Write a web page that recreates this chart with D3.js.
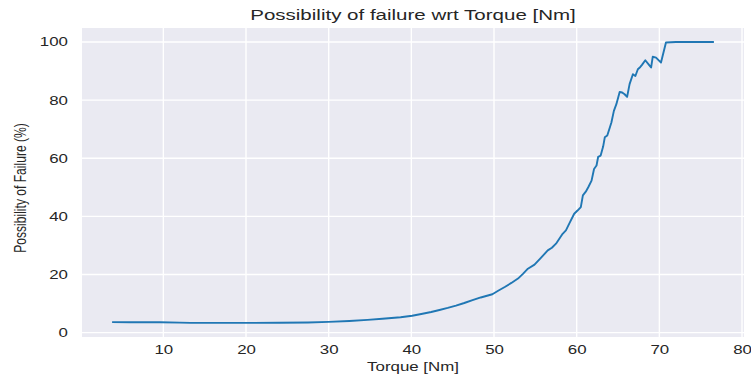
<!DOCTYPE html>
<html>
<head>
<meta charset="utf-8">
<script src="https://cdn.jsdelivr.net/npm/d3@7"></script>
<style>
  body { margin: 0; background: #fff; }
  text { font-family: "Liberation Sans", Arial, sans-serif; fill: #262626; }
</style>
</head>
<body>
<svg id="chart"></svg>
<script>
// torque values [Nm]
const torque = [3.8, 6, 9.6, 12, 13.3, 16, 20, 24, 27.5, 30, 32.5, 34.7, 36.5, 38.7, 40.1, 41.2, 42.4, 43.4,
  44.4, 45.4, 46.4, 47.4, 48.4, 49.8, 50.5, 51.3, 52.1, 52.9, 53.5, 54.1, 54.9, 55.7, 56.5, 57.0, 57.5, 58.3,
  58.7, 59.1, 59.7, 60.1, 60.5, 60.75, 61.1, 61.4, 61.8, 62.1, 62.4, 62.6, 62.9, 63.2, 63.4, 63.7, 64.0,
  64.2, 64.5, 64.8, 65.2, 65.5, 65.8, 66.1, 66.4, 66.8, 67.1, 67.4, 67.7, 67.9, 68.3, 68.7, 69.0, 69.2,
  69.6, 70.2, 70.8, 72, 74, 76.6];
// possibility of failure [%]
const failure = [3.6, 3.55, 3.55, 3.45, 3.35, 3.35, 3.35, 3.4, 3.5, 3.7, 4.0, 4.4, 4.8, 5.3, 5.8, 6.4, 7.1, 7.8,
  8.5, 9.3, 10.2, 11.2, 12.1, 13.2, 14.4, 15.7, 17.1, 18.6, 20.2, 22.0, 23.4, 25.8, 28.3, 29.2, 30.6, 34.0,
  35.2, 37.5, 40.9, 42.0, 43.2, 47.2, 48.5, 50.0, 52.3, 56.3, 57.5, 60.5, 60.9, 64.0, 67.2, 67.8, 70.5,
  72.3, 76.3, 78.6, 82.8, 82.6, 82.0, 81.1, 85.5, 88.9, 88.3, 90.6, 91.4, 92.1, 93.7, 92.3, 91.2, 94.9,
  94.6, 92.9, 99.8, 100, 100, 100];
const xTicks = [10, 20, 30, 40, 50, 60, 70, 80];
const yTicks = [0, 20, 40, 60, 80, 100];

const W = 751, H = 376;
const m = { left: 82, right: 7, top: 28, bottom: 39 };
const SX = 1.35; // the picture is stretched sideways, text too

const svg = d3.select('#chart').attr('width', W).attr('height', H);

const x = d3.scaleLinear().domain([0.16, 80.24]).range([m.left, W - m.right]);
const y = d3.scaleLinear().domain([-1.5, 104.8]).range([H - m.bottom, m.top]);

// background
svg.append('rect')
  .attr('x', m.left).attr('y', m.top)
  .attr('width', W - m.left - m.right).attr('height', H - m.top - m.bottom)
  .attr('fill', '#EAEAF2');

// grid
svg.append('g').selectAll('line').data(xTicks).enter().append('line')
  .attr('x1', d => x(d)).attr('x2', d => x(d))
  .attr('y1', m.top).attr('y2', H - m.bottom)
  .attr('stroke', '#fff').attr('stroke-width', 1.4);
svg.append('g').selectAll('line').data(yTicks).enter().append('line')
  .attr('x1', m.left).attr('x2', W - m.right)
  .attr('y1', d => y(d)).attr('y2', d => y(d))
  .attr('stroke', '#fff').attr('stroke-width', 1.4);

// axes (labels only)
const xAxis = svg.append('g').attr('transform', `translate(0,${H - m.bottom})`)
  .call(d3.axisBottom(x).tickValues(xTicks).tickSize(0).tickPadding(8));
const yAxis = svg.append('g').attr('transform', `translate(${m.left},0)`)
  .call(d3.axisLeft(y).tickValues(yTicks).tickSize(0).tickPadding(10.4));
[xAxis, yAxis].forEach(a => {
  a.select('.domain').remove();
  a.selectAll('text').attr('font-size', 12.5).attr('fill', '#262626')
    .attr('font-family', '"Liberation Sans", Arial, sans-serif')
    .attr('transform', `scale(${SX},1)`);
});

// line
const pts = torque.map((t, i) => [t, failure[i]]);
svg.append('path').datum(pts)
  .attr('fill', 'none').attr('stroke', '#2077b4').attr('stroke-width', 1.9)
  .attr('stroke-linejoin', 'round')
  .attr('d', d3.line().x(d => x(d[0])).y(d => y(d[1])));

// title & labels
const cx = (m.left + W - m.right) / 2;
svg.append('text').attr('transform', `translate(${cx},20) scale(${SX},1)`)
  .attr('text-anchor', 'middle').attr('font-size', 15.2).text('Possibility of failure wrt Torque [Nm]');
svg.append('text').attr('transform', `translate(${cx},371) scale(${SX},1)`)
  .attr('text-anchor', 'middle').attr('font-size', 12.5).text('Torque [Nm]');
svg.append('text').attr('transform', `translate(26,188) scale(${SX},1) rotate(-90)`)
  .attr('text-anchor', 'middle').attr('font-size', 12.1)
  .text('Possibility of Failure (%)');
</script>
</body>
</html>
